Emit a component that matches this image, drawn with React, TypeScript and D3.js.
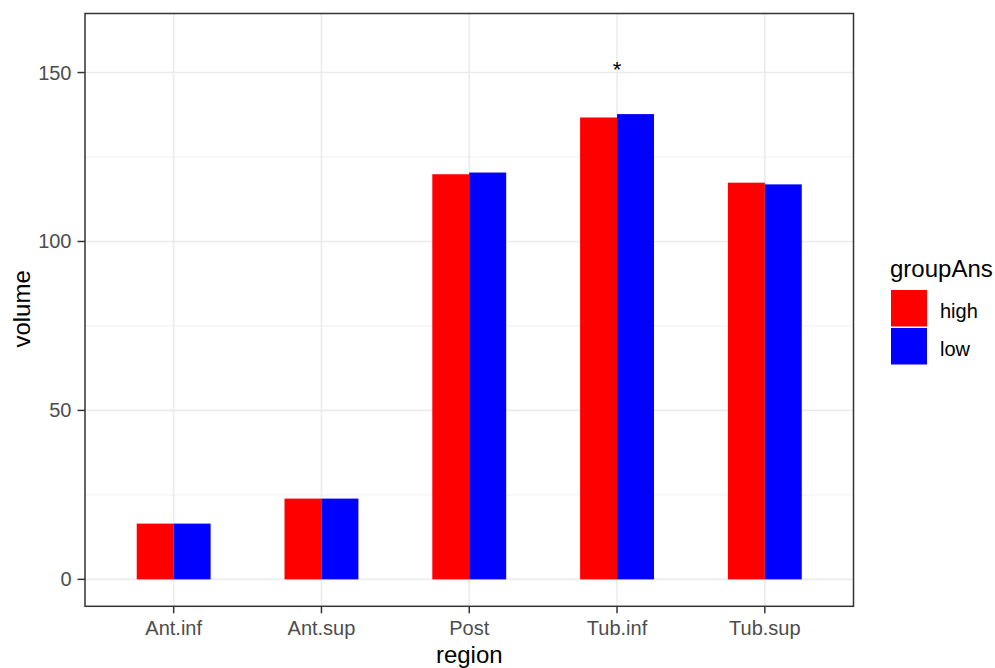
import React from "react";
import * as d3 from "d3";

const regions = ["Ant.inf", "Ant.sup", "Post", "Tub.inf", "Tub.sup"];
const groups = ["high", "low"];
const highValues = [16.5, 23.9, 119.9, 136.7, 117.4];
const lowValues = [16.5, 23.9, 120.4, 137.7, 116.9];
const groupColors = ["#FF0000", "#0000FF"];
const yTicks = [0, 50, 100, 150];
const yMinor = [25, 75, 125];
const starRegion = "Tub.inf";
const starY = 152;
const dataMaxY = 159.5;

const W = 995;
const H = 668;
const panel = { left: 85, right: 853.5, top: 13.5, bottom: 606.3 };

export default function App() {
  const x = d3
    .scaleBand<string>()
    .domain(regions)
    .range([panel.left, panel.right])
    .paddingInner(0)
    .paddingOuter(0.1);
  const step = x.step();
  const dodgeWidth = step * 0.5;
  const xInner = d3.scaleBand<string>().domain(groups).range([0, dodgeWidth]).padding(0);
  const expand = dataMaxY * 0.05;
  const y = d3
    .scaleLinear()
    .domain([-expand, dataMaxY + expand])
    .range([panel.bottom, panel.top]);

  const series = [highValues, lowValues];
  const center = (r: string) => (x(r) as number) + x.bandwidth() / 2;

  const tickColor = "#333333";
  const labelColor = "#4D4D4D";
  const font = "Liberation Sans, Arial, sans-serif";

  return (
    <svg
      width={W}
      height={H}
      style={{ position: "absolute", left: 0, top: 0, background: "#fff" }}
      fontFamily={font}
    >
      <rect x={0} y={0} width={W} height={H} fill="#fff" />
      {/* grid */}
      {yMinor.map((v) => (
        <line key={"mi" + v} x1={panel.left} x2={panel.right} y1={y(v)} y2={y(v)} stroke="#EBEBEB" strokeWidth={0.8} />
      ))}
      {yTicks.map((v) => (
        <line key={"ma" + v} x1={panel.left} x2={panel.right} y1={y(v)} y2={y(v)} stroke="#EBEBEB" strokeWidth={1.6} />
      ))}
      {regions.map((r) => (
        <line key={"vx" + r} x1={center(r)} x2={center(r)} y1={panel.top} y2={panel.bottom} stroke="#EBEBEB" strokeWidth={1.6} />
      ))}
      {/* bars */}
      {regions.map((r, i) =>
        groups.map((g, gi) => {
          const v = series[gi][i];
          const x0 = center(r) - dodgeWidth / 2 + (xInner(g) as number);
          return (
            <rect
              key={r + g}
              x={x0}
              y={y(v)}
              width={xInner.bandwidth()}
              height={y(0) - y(v)}
              fill={groupColors[gi]}
            />
          );
        })
      )}
      {/* star */}
      <text x={center(starRegion)} y={y(starY)} dy="0.51em" textAnchor="middle" fontSize={22} fill="#000">
        *
      </text>
      {/* panel border */}
      <rect
        x={panel.left}
        y={panel.top}
        width={panel.right - panel.left}
        height={panel.bottom - panel.top}
        fill="none"
        stroke={tickColor}
        strokeWidth={1.5}
      />
      {/* y axis ticks */}
      {yTicks.map((v) => (
        <g key={"yt" + v}>
          <line x1={panel.left - 7.5} x2={panel.left} y1={y(v)} y2={y(v)} stroke={tickColor} strokeWidth={1.5} />
          <text x={panel.left - 13.5} y={y(v)} dy="0.35em" textAnchor="end" fontSize={20} fill={labelColor}>
            {v}
          </text>
        </g>
      ))}
      {/* x axis ticks */}
      {regions.map((r) => (
        <g key={"xt" + r}>
          <line x1={center(r)} x2={center(r)} y1={panel.bottom} y2={panel.bottom + 7} stroke={tickColor} strokeWidth={1.5} />
          <text x={center(r)} y={635} textAnchor="middle" fontSize={20} fill={labelColor}>
            {r}
          </text>
        </g>
      ))}
      {/* axis titles */}
      <text x={(panel.left + panel.right) / 2} y={663} textAnchor="middle" fontSize={24} fill="#000">
        region
      </text>
      <text
        transform={`translate(30,${(panel.top + panel.bottom) / 2 - 1}) rotate(-90)`}
        textAnchor="middle"
        fontSize={24}
        fill="#000"
      >
        volume
      </text>
      {/* legend */}
      <text x={890} y={277} fontSize={24} fill="#000">
        groupAns
      </text>
      {groups.map((g, gi) => (
        <g key={"lg" + g}>
          <rect x={891} y={290 + gi * 38} width={36} height={36.5} fill={groupColors[gi]} />
          <text x={940} y={290 + gi * 38 + 20.5} dy="0.35em" fontSize={20} fill="#000">
            {g}
          </text>
        </g>
      ))}
    </svg>
  );
}
